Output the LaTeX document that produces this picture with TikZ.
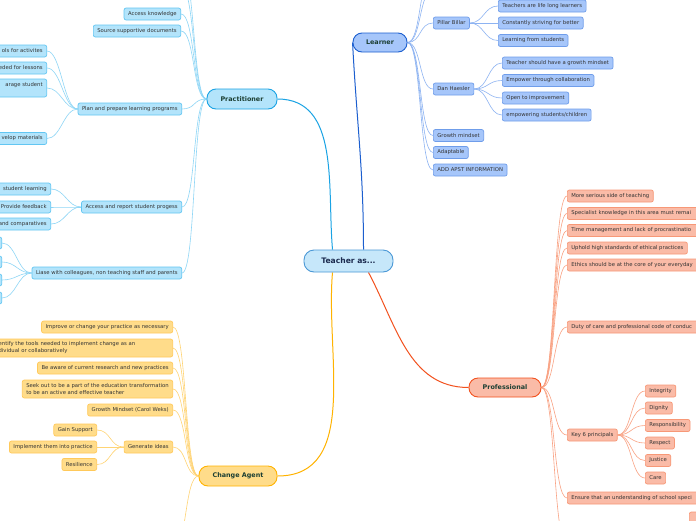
\documentclass[tikz,border=0pt]{standalone}
\usepackage{fontspec}
\setmainfont{DejaVu Sans}
\usetikzlibrary{backgrounds}

\definecolor{rootfill}{HTML}{C6E7FA}
\definecolor{rootdraw}{HTML}{4A98D6}
\definecolor{roottext}{HTML}{1B2A4E}
\definecolor{maintext}{HTML}{1C3F33}
\definecolor{leaftext}{HTML}{333333}
\definecolor{prfill}{HTML}{B3E4FB}
\definecolor{prdraw}{HTML}{62C6F2}
\definecolor{prmain}{HTML}{1AA3E4}
\definecolor{prlink}{HTML}{8ED6F6}
\definecolor{lefill}{HTML}{A6C6FA}
\definecolor{ledraw}{HTML}{6F9DEA}
\definecolor{lemain}{HTML}{1C5FCF}
\definecolor{lelink}{HTML}{8DB3F2}
\definecolor{pffill}{HTML}{FABBA7}
\definecolor{pfdraw}{HTML}{F79877}
\definecolor{pfmain}{HTML}{F2511E}
\definecolor{pflink}{HTML}{F9A283}
\definecolor{cafill}{HTML}{FFDC8A}
\definecolor{cadraw}{HTML}{FFC95A}
\definecolor{camain}{HTML}{FFB300}
\definecolor{calink}{HTML}{FFD474}

\begin{document}
\begin{tikzpicture}[x=1pt,y=-1pt,
        leaf/.style={draw,rounded corners=2pt,line width=0.7pt,minimum height=12pt,
          inner xsep=4pt,inner ysep=1pt,text=leaftext,font=\fontsize{5.3}{7}\selectfont},
        prleaf/.style={leaf,draw=prdraw,fill=prfill},
        leleaf/.style={leaf,draw=ledraw,fill=lefill},
        pfleaf/.style={leaf,draw=pfdraw,fill=pffill},
        caleaf/.style={leaf,draw=cadraw,fill=cafill},
        cutl/.style={text width=#1,align=right},
        cutr/.style={text width=#1,align=left},
        topic/.style={draw,rounded corners=9pt,line width=0.9pt,minimum height=20pt,
          text=maintext,font=\bfseries\fontsize{6.4}{7}\selectfont},
        lft/.style={out=180,in=0,distance=14pt},
        rgt/.style={out=0,in=180,distance=14pt},
        link/.style={line width=0.6pt}]

        \useasboundingbox (0,0) rectangle (696,520);

        \node at (348.5,261) [topic,draw=rootdraw,fill=rootfill,text=roottext,rounded corners=10pt,
          minimum width=89pt,minimum height=22pt,font=\bfseries\fontsize{7.6}{9}\selectfont] (T) {Teacher as...};
        \node at (242,99) [topic,draw=prmain,fill=prfill,minimum width=70pt] (PR) {Practitioner};
        \node at (380,42.5) [topic,draw=lemain,fill=lefill,minimum width=54pt,minimum height=19pt] (LE) {Learner};
        \node at (505,387.5) [topic,draw=pfmain,fill=pffill,minimum width=72pt,minimum height=19pt] (PF) {Professional};
        \node at (238,476) [topic,draw=camain,fill=cafill,minimum width=78pt] (CA) {Change Agent};

        % Practitioner
        \node at (181,14) [prleaf,anchor=east] (AK) {Access knowledge};
        \node at (181,31) [prleaf,anchor=east] (SD) {Source supportive documents};
        \node at (182,109) [prleaf,anchor=east] (PP) {Plan and prepare learning programs};
        \node at (182,207) [prleaf,anchor=east] (AR) {Access and report student progess};
        \node at (182,273) [prleaf,anchor=east] (LC) {Liase with colleagues, non teaching staff and parents};
        \coordinate (PX1) at (181,-14);
        \coordinate (PX2) at (181,-34);

        \node at (47,51) [prleaf,anchor=east,cutl=80pt] (PP1) {ols for activites};
        \node at (47,68) [prleaf,anchor=east,cutl=80pt] (PP2) {eded for lessons};
        \node at (47,88) [prleaf,anchor=east,cutl=80pt,minimum height=18pt] (PP3) {arage student\hspace*{9pt}\\\mbox{}};
        \node at (47,138.5) [prleaf,anchor=east,cutl=80pt] (PP4) {velop materials};

        \node at (51,189) [prleaf,anchor=east,cutl=80pt] (AR1) {student learning};
        \node at (51,207) [prleaf,anchor=east,cutl=80pt] (AR2) {Provide feedback};
        \node at (51,224) [prleaf,anchor=east,cutl=80pt] (AR3) {and comparatives};

        \node at (2,243) [prleaf,anchor=east,minimum width=30pt] (LC1) {};
        \node at (2,262) [prleaf,anchor=east,minimum width=30pt] (LC2) {};
        \node at (2,280) [prleaf,anchor=east,minimum width=30pt] (LC3) {};
        \node at (2,298) [prleaf,anchor=east,minimum width=30pt] (LC4) {};

        % Learner
        \node at (433,23) [leleaf,anchor=west] (PB) {Pillar Billar};
        \node at (433,89) [leleaf,anchor=west] (DH) {Dan Haesler};
        \node at (433,135.5) [leleaf,anchor=west] (GM) {Growth mindset};
        \node at (433,152.5) [leleaf,anchor=west] (AD) {Adaptable};
        \node at (433,170) [leleaf,anchor=west] (AP) {ADD APST INFORMATION};
        \coordinate (LX1) at (433,-10);
        \coordinate (LX2) at (433,-28);

        \node at (498,6) [leleaf,anchor=west] (PB1) {Teachers are life long learners};
        \node at (498,23) [leleaf,anchor=west] (PB2) {Constantly striving for better};
        \node at (498,40.5) [leleaf,anchor=west] (PB3) {Learning from students};

        \node at (502,63) [leleaf,anchor=west] (DH1) {Teacher should have a growth mindset};
        \node at (502,80.5) [leleaf,anchor=west] (DH2) {Empower through collaboration};
        \node at (502,98) [leleaf,anchor=west] (DH3) {Open to improvement};
        \node at (502,115) [leleaf,anchor=west] (DH4) {empowering students/children};

        % Professional
        \node at (567,196) [pfleaf,anchor=west] (PF1) {More serious side of teaching};
        \node at (567,213.5) [pfleaf,anchor=west,cutr=160pt] (PF2) {Specialist knowledge in this area must remai};
        \node at (567,230.5) [pfleaf,anchor=west,cutr=160pt] (PF3) {Time management and lack of procrastinatio};
        \node at (567,248) [pfleaf,anchor=west] (PF4) {Uphold high standards of ethical practices};
        \node at (567,265) [pfleaf,anchor=west,cutr=160pt] (PF5) {Ethics should be at the core of your everyday};
        \node at (567,327) [pfleaf,anchor=west,cutr=160pt] (PF6) {Duty of care and professional code of conduc};
        \node at (567,435) [pfleaf,anchor=west] (KP) {Key 6 principals};
        \node at (567,498) [pfleaf,anchor=west,cutr=160pt] (PF8) {Ensure that an understanding of school speci};
        \coordinate (PFX) at (567,545);
        \node at (689,518) [pfleaf,anchor=west,minimum width=20pt] (PF9) {};

        \node at (645,391) [pfleaf,anchor=west] (KP1) {Integrity};
        \node at (645,408) [pfleaf,anchor=west] (KP2) {Dignity};
        \node at (645,425.5) [pfleaf,anchor=west] (KP3) {Responsibility};
        \node at (645,443) [pfleaf,anchor=west] (KP4) {Respect};
        \node at (645,460.5) [pfleaf,anchor=west] (KP5) {Justice};
        \node at (645,478) [pfleaf,anchor=west] (KP6) {Care};

        % Change Agent
        \node at (173,327) [caleaf,anchor=east] (CA1) {Improve or change your practice as necessary};
        \node at (173,348) [caleaf,anchor=east,cutr=170pt,minimum height=18pt] (CA2)
          {entify the tools needed to implement change as an\\dividual or collaboratively};
        \node at (173,368) [caleaf,anchor=east] (CA3) {Be aware of current research and new practices};
        \node at (173,389) [caleaf,anchor=east,align=left,minimum height=18pt] (CA4)
          {Seek out to be a part of the education transformation\\to be an active and effective teacher};
        \node at (173,410) [caleaf,anchor=east] (CA5) {Growth Mindset (Carol Weks)};
        \node at (173,447) [caleaf,anchor=east] (GI) {Generate ideas};
        \coordinate (CAX) at (173,550);

        \node at (97,430) [caleaf,anchor=east] (GI1) {Gain Support};
        \node at (97,447) [caleaf,anchor=east] (GI2) {Implement them into practice};
        \node at (97,464.5) [caleaf,anchor=east] (GI3) {Resilience};

        \begin{scope}[on background layer]
          \fill[white] (0,0) rectangle (696,520);

          \path[line width=1pt]
          (PR.east) edge[color=prmain,out=0,in=95] ([xshift=-16pt]T.north)
          (LE.west) edge[color=lemain,out=-87,in=90] ([xshift=15pt]T.north)
          ([xshift=20pt]T.south) edge[color=pfmain,out=-62,in=180] (PF.west)
          ([xshift=-16pt]T.south) edge[color=camain,out=-95,in=0] (CA.east);

          \path[link,color=prlink] (PR.west) edge[lft] (PX1) edge[lft] (PX2) edge[lft] (AK.east)
          edge[lft] (SD.east) edge[lft] (PP.east) edge[lft] (AR.east) edge[lft] (LC.east);
          \path[link,color=prlink] (PP.west) edge[lft] (PP1.east) edge[lft] (PP2.east)
          edge[lft] (PP3.east) edge[lft] (PP4.east);
          \path[link,color=prlink] (AR.west) edge[lft] (AR1.east) edge[lft] (AR2.east) edge[lft] (AR3.east);
          \path[link,color=prlink] (LC.west) edge[lft] (LC1.east) edge[lft] (LC2.east)
          edge[lft] (LC3.east) edge[lft] (LC4.east);

          \path[link,color=lelink] (LE.east) edge[rgt] (LX1) edge[rgt] (LX2) edge[rgt] (PB.west)
          edge[rgt] (DH.west) edge[rgt] (GM.west) edge[rgt] (AD.west) edge[rgt] (AP.west);
          \path[link,color=lelink] (PB.east) edge[rgt] (PB1.west) edge[rgt] (PB2.west) edge[rgt] (PB3.west);
          \path[link,color=lelink] (DH.east) edge[rgt] (DH1.west) edge[rgt] (DH2.west)
          edge[rgt] (DH3.west) edge[rgt] (DH4.west);

          \path[link,color=pflink] (PF.east) edge[rgt] (PF1.west) edge[rgt] (PF2.west) edge[rgt] (PF3.west)
          edge[rgt] (PF4.west) edge[rgt] (PF5.west) edge[rgt] (PF6.west) edge[rgt] (KP.west)
          edge[rgt] (PF8.west) edge[rgt] (PFX);
          \path[link,color=pflink] (KP.east) edge[rgt] (KP1.west) edge[rgt] (KP2.west) edge[rgt] (KP3.west)
          edge[rgt] (KP4.west) edge[rgt] (KP5.west) edge[rgt] (KP6.west);

          \path[link,color=calink] (CA.west) edge[lft] (CA1.east) edge[lft] (CA2.east) edge[lft] (CA3.east)
          edge[lft] (CA4.east) edge[lft] (CA5.east) edge[lft] (GI.east) edge[lft] (CAX);
          \path[link,color=calink] (GI.west) edge[lft] (GI1.east) edge[lft] (GI2.east) edge[lft] (GI3.east);
        \end{scope}

      \end{tikzpicture}
\end{document}
